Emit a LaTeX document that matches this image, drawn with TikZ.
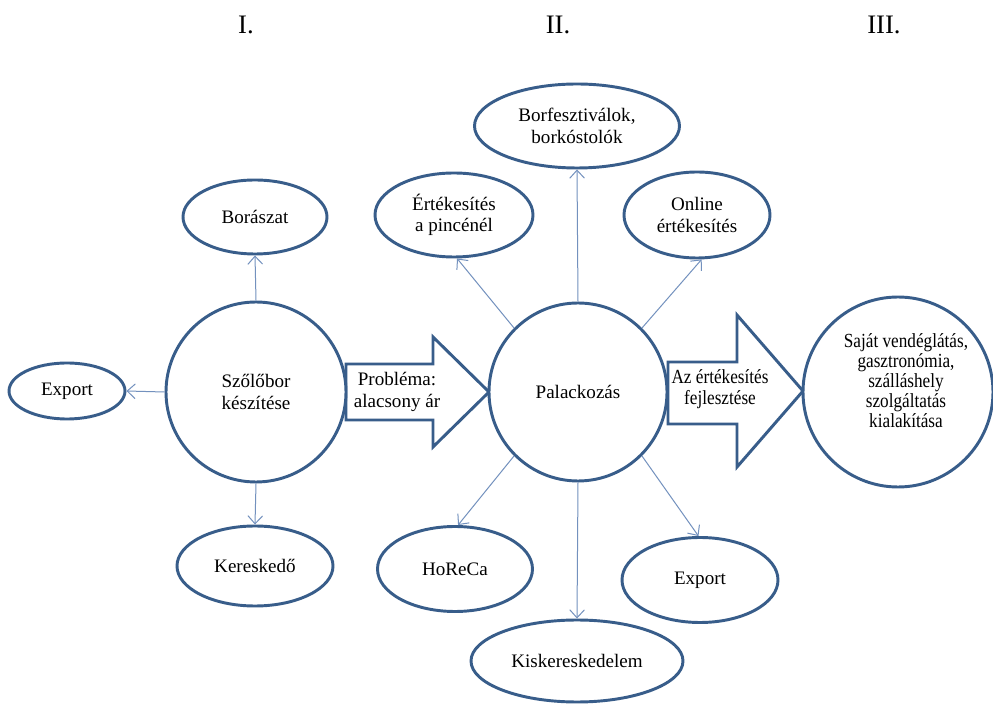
\documentclass[tikz,border=0pt]{standalone}
\usepackage{fontspec}
\setmainfont{Liberation Serif}
\newfontfamily\condfont[FakeStretch=0.86]{Liberation Serif}
\usetikzlibrary{shapes.geometric,arrows.meta}
\definecolor{edgeblue}{RGB}{56,93,138}
\definecolor{linkblue}{RGB}{115,145,190}
\tikzset{
  shp/.style={draw=edgeblue, line width=2.2pt, fill=white, inner sep=0pt, align=center,
    font=\fontsize{14.3}{16}\selectfont},
  ell/.style={shp, ellipse},
  circ/.style={shp, circle},
  link/.style={draw=linkblue, line width=0.75pt, -{Straight Barb[length=6pt,width=11pt,line width=0.75pt]}},
  blockarrow/.style={draw=edgeblue, line width=2.2pt, fill=white, line join=miter},
  title/.style={font=\fontsize{20}{22}\selectfont},
  label/.style={align=center, inner sep=0pt, font=\fontsize{14.3}{16}\selectfont}
}
\begin{document}
\begin{tikzpicture}[x=0.75pt,y=-0.75pt]
\useasboundingbox[fill=white] (0,0) rectangle (993,705);

% titles
\node[title] (t1) at (246,25) {I.};
\node[title] (t2) at (558,25) {II.};
\node[title] (t3) at (884,25) {III.};

% block arrows
\draw[blockarrow] (346,364) -- (433,364) -- (433,337) -- (489,392) -- (433,447) -- (433,420) -- (346,420) -- cycle;
\node[label] (prob) at (397,392) {Probléma:\\alacsony ár};
\draw[blockarrow] (668,362) -- (737,362) -- (737,315) -- (803,391) -- (737,467) -- (737,424) -- (668,424) -- cycle;
\node[label, font=\condfont\fontsize{15}{16}\selectfont] (fejl) at (720,389) {Az értékesítés\\fejlesztése};

% stage I
\node[circ, minimum size=135pt] (szolo) at (256,392) {Szőlőbor\\készítése};
\node[ell, minimum width=108pt, minimum height=55.5pt] (bor) at (255,217) {Borászat};
\node[ell, minimum width=87pt, minimum height=42pt] (expL) at (67,391) {Export};
\node[ell, minimum width=117pt, minimum height=60pt] (ker) at (255,566) {Kereskedő};

% stage II
\node[circ, minimum size=133.5pt] (pal) at (578,392) {Palackozás};
\node[ell, minimum width=153.75pt, minimum height=63pt] (borf) at (577,126) {Borfesztiválok,\\borkóstolók};
\node[ell, minimum width=118.5pt, minimum height=63pt] (ert) at (454,215) {Értékesítés\\a pincénél};
\node[ell, minimum width=109.5pt, minimum height=64.5pt] (onl) at (697,215) {Online\\értékesítés};
\node[ell, minimum width=116.25pt, minimum height=63.75pt] (hor) at (455,569) {HoReCa};
\node[ell, minimum width=117pt, minimum height=63.75pt] (expR) at (700,580) {Export};
\node[ell, minimum width=159pt, minimum height=61.5pt] (kisk) at (577,661) {Kiskereskedelem};

% stage III
\node[circ, minimum size=142.5pt] (sajat) at (898,392) {};
\node[label, font=\condfont\fontsize{15}{15}\selectfont] (sajattext) at (906,381)
  {Saját vendéglátás,\\gasztronómia,\\szálláshely\\szolgáltatás\\kialakítása};

% connectors
\draw[link] (szolo.north) -- (bor.south);
\draw[link] (szolo.west) -- (expL.east);
\draw[link] (szolo.south) -- (ker.north);
\draw[link] (pal.north) -- (borf.south);
\draw[link] (pal.135) -- (ert.-86);
\draw[link] (pal.45) -- (onl.-84);
\draw[link] (pal.225) -- (hor.86);
\draw[link] (pal.315) -- (expR.92);
\draw[link] (pal.south) -- (kisk.north);
\end{tikzpicture}
\end{document}
